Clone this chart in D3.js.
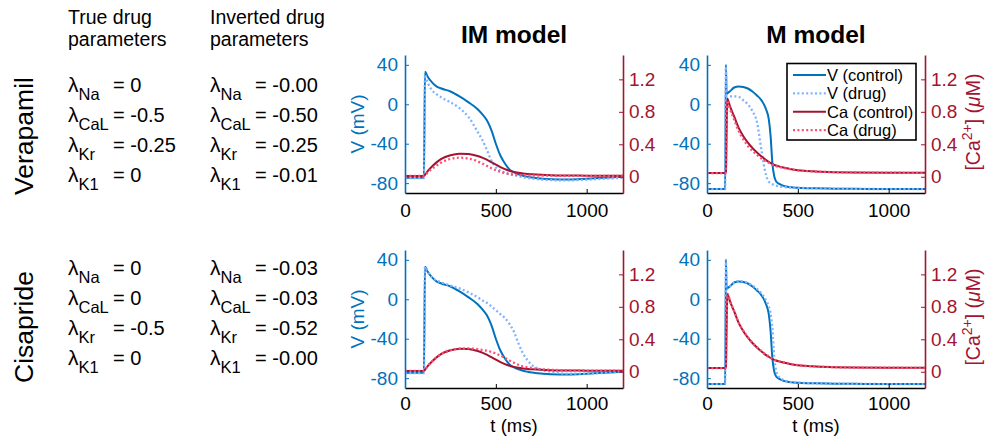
<!DOCTYPE html>
<html>
<head>
<meta charset="utf-8">
<script src="https://cdn.jsdelivr.net/npm/d3@7"></script>
<style>
  body { margin: 0; background: #fff; }
  svg { display: block; font-family: "Liberation Sans", Arial, Helvetica, sans-serif; }
</style>
</head>
<body>
<svg id="fig" width="986" height="440"></svg>
<script>
// ---------------- data ----------------
const drugNames = ["Verapamil", "Cisapride"];
const modelNames = ["IM model", "M model"];
const paramNames = ["Na", "CaL", "Kr", "K1"];
const trueVerapamil = ["0", "-0.5", "-0.25", "0"];
const invertedVerapamil = ["-0.00", "-0.50", "-0.25", "-0.01"];
const trueCisapride = ["0", "0", "-0.5", "0"];
const invertedCisapride = ["-0.03", "-0.03", "-0.52", "-0.00"];

const tTicks = [0, 500, 1000];
const vTicks = [-80, -40, 0, 40];
const caTicks = [0, 0.4, 0.8, 1.2];
const caTickLabels = ["0", "0.4", "0.8", "1.2"];
const legendLabels = ["V (control)", "V (drug)", "Ca (control)", "Ca (drug)"];

// IM model traces (t in ms, V in mV, Ca in uM)
const timeIM = [0, 104, 110, 125, 150, 175, 200, 250, 300, 350, 400, 425, 450, 475, 500, 525, 550, 575, 600, 625, 650, 675, 700, 750, 800, 900, 1000, 1100, 1200];
const vControlIM = [-74.5, -74.5, 33, 28, 22, 18, 16, 13, 8, 2, -5, -10, -16, -26, -40, -52, -60, -66, -69, -71, -72.5, -73.5, -74.3, -75.3, -76, -76.2, -75.5, -74.5, -73.5];
const caControlIM = [0.01, 0.01, 0.025, 0.07, 0.13, 0.18, 0.22, 0.265, 0.285, 0.28, 0.255, 0.235, 0.21, 0.18, 0.15, 0.12, 0.095, 0.075, 0.06, 0.05, 0.04, 0.034, 0.03, 0.024, 0.02, 0.016, 0.014, 0.012, 0.011];
const vVerapamilIM = [-75, -75, 30, 22, 14, 10, 7, 2, -4, -13, -28, -36, -46, -57, -64, -67.5, -69.5, -71, -72, -73, -74, -74.7, -75.3, -76.3, -77, -77.2, -76.5, -75.5, -74.5];
const caVerapamilIM = [0.01, 0.01, 0.02, 0.05, 0.1, 0.14, 0.175, 0.22, 0.235, 0.225, 0.19, 0.165, 0.135, 0.105, 0.08, 0.06, 0.045, 0.035, 0.028, 0.023, 0.02, 0.018, 0.016, 0.014, 0.013, 0.012, 0.011, 0.011, 0.01];
const vCisaprideIM = [-75, -75, 33, 28, 22, 19, 17, 14, 11, 7, 2, -1, -3.5, -7, -11, -15, -19, -25, -33, -45, -55, -62, -67, -71.5, -73.5, -75.5, -75.5, -74.5, -73.5];
const caCisaprideIM = [0.01, 0.01, 0.025, 0.07, 0.13, 0.18, 0.22, 0.265, 0.285, 0.287, 0.28, 0.27, 0.26, 0.245, 0.225, 0.2, 0.17, 0.14, 0.11, 0.085, 0.068, 0.055, 0.045, 0.032, 0.025, 0.018, 0.015, 0.013, 0.012];

// M model traces
const timeM = [0, 100, 104, 108, 112, 118, 125, 150, 175, 200, 225, 250, 275, 300, 325, 340, 350, 360, 370, 380, 400, 450, 500, 600, 700, 800, 1000, 1200];
const vControlM = [-86, -86, 40, 10, 11, 12, 13, 17, 18, 17.5, 16, 13, 9, 4, -5, -15, -32, -60, -73, -78, -81, -84, -84.7, -85.3, -85.6, -85.8, -86, -86];
const caControlM = [0.045, 0.045, 0.06, 0.55, 0.96, 0.93, 0.88, 0.74, 0.6, 0.5, 0.42, 0.355, 0.3, 0.25, 0.205, 0.185, 0.17, 0.158, 0.147, 0.138, 0.125, 0.1, 0.08, 0.065, 0.057, 0.053, 0.05, 0.048];
const vVerapamilM = [-86, -86, 38, 6, 7, 7.5, 8, 8, 7.5, 4, 0, -7, -18, -47, -72, -78.5, -80, -81, -82, -82.5, -83.5, -84.3, -84.7, -85.3, -85.6, -85.8, -86, -86];
const caVerapamilM = [0.045, 0.045, 0.06, 0.55, 0.94, 0.91, 0.85, 0.7, 0.56, 0.46, 0.38, 0.32, 0.27, 0.225, 0.19, 0.173, 0.16, 0.15, 0.14, 0.132, 0.12, 0.098, 0.079, 0.064, 0.057, 0.053, 0.05, 0.048];
const vCisaprideM = [-86, -86, 40, 10, 11, 12, 13, 17, 18.5, 18, 16.5, 14, 10.5, 6, -1, -7, -14, -30, -58, -72, -79.5, -83.5, -84.5, -85.2, -85.6, -85.8, -86, -86];
const caCisaprideM = [0.045, 0.045, 0.06, 0.56, 0.96, 0.935, 0.885, 0.745, 0.605, 0.505, 0.425, 0.36, 0.305, 0.255, 0.21, 0.19, 0.175, 0.162, 0.15, 0.14, 0.127, 0.101, 0.081, 0.065, 0.057, 0.053, 0.05, 0.048];

// ---------------- assembly ----------------
const models = [
  { time: timeIM, vControl: vControlIM, caControl: caControlIM,
    drug: [{ v: vVerapamilIM, ca: caVerapamilIM }, { v: vCisaprideIM, ca: caCisaprideIM }] },
  { time: timeM, vControl: vControlM, caControl: caControlM,
    drug: [{ v: vVerapamilM, ca: caVerapamilM }, { v: vCisaprideM, ca: caCisaprideM }] }
];
const paramTable = [
  { trueVals: trueVerapamil, invVals: invertedVerapamil },
  { trueVals: trueCisapride, invVals: invertedCisapride }
];

// ---------------- layout & style ----------------
const colBlue = "#0072BD", colLightBlue = "#80B3FF", colRed = "#A2142F", colPink = "#FF4D73";
const cols = [{ x0: 405, x1: 623 }, { x0: 707, x1: 925 }];
const rows = [{ y0: 55, y1: 193, textTop: 92, labelY: 136 }, { y0: 250, y1: 388, textTop: 275, labelY: 327 }];
const tickFont = 19;
const textFont = 20;

const svg = d3.select("#fig");

// model titles
modelNames.forEach((name, c) => {
  svg.append("text")
    .attr("x", (cols[c].x0 + cols[c].x1) / 2).attr("y", 43)
    .attr("text-anchor", "middle").attr("font-weight", "bold").attr("font-size", 24.5)
    .attr("fill", "#000").text(name);
});

// parameter column headers
[["True drug", "parameters", 68], ["Inverted drug", "parameters", 210]].forEach(([l1, l2, x]) => {
  svg.append("text").attr("x", x).attr("y", 23.5).attr("font-size", 19.5).text(l1);
  svg.append("text").attr("x", x).attr("y", 46).attr("font-size", 19.5).text(l2);
});

function paramLine(x, y, sub, val) {
  const t = svg.append("text").attr("x", x).attr("y", y).attr("font-size", textFont + 1).attr("fill", "#000");
  t.append("tspan").text("λ");
  t.append("tspan").attr("font-size", 16.5).attr("dy", 7.5).text(sub);
  svg.append("text").attr("x", x + 45).attr("y", y).attr("font-size", textFont).attr("fill", "#000")
    .text("= " + val);
}

drugNames.forEach((drug, r) => {
  const row = rows[r];
  svg.append("text")
    .attr("transform", `translate(33,${row.labelY}) rotate(-90)`)
    .attr("text-anchor", "middle").attr("font-size", 26.5).text(drug);
  paramNames.forEach((p, i) => {
    const y = row.textTop + i * 30;
    paramLine(68, y, p, paramTable[r].trueVals[i]);
    paramLine(210, y, p, paramTable[r].invVals[i]);
  });
});

// panels
function drawPanel(r, c) {
  const { x0, x1 } = cols[c];
  const { y0, y1 } = rows[r];
  const m = models[c];
  const x = d3.scaleLinear().domain([0, 1200]).range([x0, x1]);
  const yV = d3.scaleLinear().domain([-90, 50]).range([y1, y0]);
  const yCa = d3.scaleLinear().domain([-0.2, 1.5]).range([y1, y0]);
  const g = svg.append("g");

  const lineV = d3.line().x((d, i) => x(m.time[i])).y(d => yV(d)).curve(d3.curveMonotoneX);
  const lineCa = d3.line().x((d, i) => x(m.time[i])).y(d => yCa(d)).curve(d3.curveMonotoneX);

  const traces = [
    { data: m.vControl, line: lineV, color: colBlue, dash: null },
    { data: m.drug[r].v, line: lineV, color: colLightBlue, dash: "2,2.4" },
    { data: m.caControl, line: lineCa, color: colRed, dash: null },
    { data: m.drug[r].ca, line: lineCa, color: colPink, dash: "2,2.4" }
  ];
  traces.forEach(tr => {
    g.append("path").attr("d", tr.line(tr.data))
      .attr("fill", "none").attr("stroke", tr.color)
      .attr("stroke-width", tr.dash ? 2.3 : 2)
      .attr("stroke-dasharray", tr.dash)
      .attr("stroke-linejoin", "round");
  });

  const plain = d => String(d);

  // x axis
  const ax = g.append("g").attr("transform", `translate(0,${y1})`)
    .call(d3.axisBottom(x).tickValues(tTicks).tickSizeInner(-4).tickSizeOuter(0).tickPadding(r === 0 ? 10.5 : 9).tickFormat(plain));
  ax.select(".domain").attr("stroke", "#000").attr("stroke-width", 1.6);
  ax.selectAll(".tick line").attr("stroke", "#000").attr("stroke-width", 1);
  ax.selectAll(".tick text").attr("fill", "#000").attr("font-size", tickFont).attr("font-family", null);

  // left V axis
  const al = g.append("g").attr("transform", `translate(${x0},0)`)
    .call(d3.axisLeft(yV).tickValues(vTicks).tickSizeInner(-4).tickSizeOuter(0).tickPadding(7).tickFormat(plain));
  al.select(".domain").attr("stroke", colBlue).attr("stroke-width", 1.6);
  al.selectAll(".tick line").attr("stroke", colBlue).attr("stroke-width", 1);
  al.selectAll(".tick text").attr("fill", colBlue).attr("font-size", tickFont).attr("font-family", null);

  // right Ca axis
  const ar = g.append("g").attr("transform", `translate(${x1},0)`)
    .call(d3.axisRight(yCa).tickValues(caTicks).tickSizeInner(-4).tickSizeOuter(0).tickPadding(6)
      .tickFormat((d, i) => caTickLabels[i]));
  ar.select(".domain").attr("stroke", colRed).attr("stroke-width", 1.6);
  ar.selectAll(".tick line").attr("stroke", colRed).attr("stroke-width", 1);
  ar.selectAll(".tick text").attr("fill", colRed).attr("font-size", tickFont).attr("font-family", null);

  if (c === 0) {
    svg.append("text")
      .attr("transform", `translate(364,${(y0 + y1) / 2}) rotate(-90)`)
      .attr("text-anchor", "middle").attr("font-size", tickFont).attr("fill", colBlue).text("V (mV)");
  }
  if (c === 1) {
    const t = svg.append("text")
      .attr("transform", `translate(980,${(y0 + y1) / 2 - 2}) rotate(-90)`)
      .attr("text-anchor", "middle").attr("font-size", 19.5).attr("fill", colRed);
    t.append("tspan").text("[Ca");
    t.append("tspan").attr("font-size", 14).attr("dy", -8).text("2+");
    t.append("tspan").attr("dy", 8).text("] (");
    t.append("tspan").attr("font-style", "italic").text("μ");
    t.append("tspan").text("M)");
  }
  if (r === 1) {
    svg.append("text")
      .attr("x", (x0 + x1) / 2).attr("y", 432).attr("text-anchor", "middle")
      .attr("font-size", 18.5).attr("fill", "#000").text("t (ms)");
  }

  if (r === 0 && c === 1) {
    const lg = svg.append("g");
    lg.append("rect").attr("x", 787).attr("y", 63.5).attr("width", 129).attr("height", 76.5)
      .attr("fill", "#fff").attr("stroke", "#000").attr("stroke-width", 1.6);
    const styles = [
      { color: colBlue, dash: null }, { color: colLightBlue, dash: "2,2.4" },
      { color: colRed, dash: null }, { color: colPink, dash: "2,2.4" }
    ];
    legendLabels.forEach((lab, i) => {
      const yy = 75 + i * 18.4;
      lg.append("line").attr("x1", 793).attr("x2", 826).attr("y1", yy).attr("y2", yy)
        .attr("stroke", styles[i].color).attr("stroke-width", styles[i].dash ? 2.3 : 2)
        .attr("stroke-dasharray", styles[i].dash);
      lg.append("text").attr("x", 827).attr("y", yy + 6).attr("font-size", 16.5).attr("fill", "#000").text(lab);
    });
  }
}

for (let r = 0; r < 2; r++) for (let c = 0; c < 2; c++) drawPanel(r, c);
</script>
</body>
</html>
